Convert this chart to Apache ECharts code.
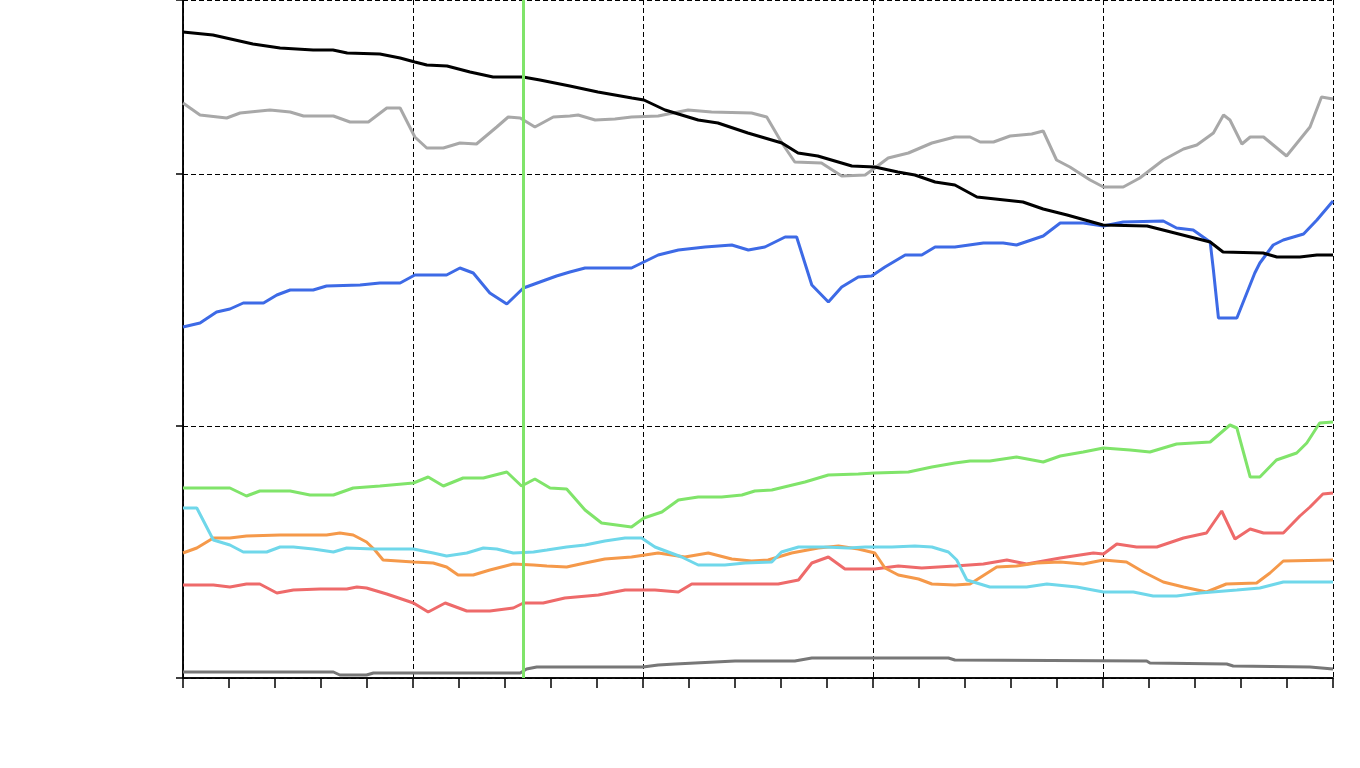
<!DOCTYPE html>
<html>
<head>
<meta charset="utf-8">
<script src="https://cdn.jsdelivr.net/npm/echarts@6/dist/echarts.min.js"></script>
<style>
html,body{margin:0;padding:0;background:#fff;}
#chart{width:1360px;height:768px;}
</style>
</head>
<body>
<div id="chart"></div>
<script>
// x: position along the time axis (0..25), y: value (axis 0..678)
const blackSeries = [[0,646],[0.65,643],[1.52,634],[2.11,630],[2.83,628],[3.26,628],[3.57,625],[4.28,624],[4.72,620],[5.04,616],[5.30,613],[5.74,612],[6.24,606],[6.74,601],[7.39,601],[7.76,598],[8.41,592],[9.02,586],[9.76,580],[10.02,578],[10.48,568],[11.20,558],[11.63,555],[12.28,545],[13.02,535],[13.37,525],[13.80,522],[14.54,512],[15.04,511],[15.54,506],[15.91,503],[16.35,496],[16.78,493],[17.26,481],[18.26,476],[18.70,469],[19.22,463],[20.00,453],[20.96,452],[21.39,447],[22.33,436],[22.61,426],[23.48,425],[23.78,421],[24.28,421],[24.65,423],[25,423]];

const lightGraySeries = [[0,575],[0.37,563],[0.95,560],[1.24,565],[1.89,568],[2.33,566],[2.62,562],[3.27,562],[3.63,556],[4.03,556],[4.43,570],[4.72,570],[5.04,541],[5.30,530],[5.66,530],[6.02,535],[6.38,534],[6.82,551],[7.07,561],[7.33,560],[7.65,551],[8.05,561],[8.41,562],[8.59,563],[8.96,558],[9.39,559],[9.75,561],[10.33,562],[10.98,568],[11.49,566],[12.36,565],[12.69,561],[13.02,535],[13.30,516],[13.88,515],[14.32,502],[14.83,503],[15.04,510],[15.33,520],[15.77,525],[16.28,535],[16.78,541],[17.11,541],[17.33,536],[17.62,536],[17.98,542],[18.45,544],[18.70,547],[18.99,518],[19.28,511],[19.72,498],[20.01,491],[20.44,491],[20.80,500],[21.31,518],[21.75,529],[22.04,533],[22.40,545],[22.62,563],[22.76,558],[23.02,534],[23.20,541],[23.49,541],[23.99,522],[24.50,551],[24.75,581],[25,579]];

const blueSeries = [[0,351],[0.37,355],[0.73,366],[1.02,369],[1.31,375],[1.75,375],[2.04,383],[2.33,388],[2.83,388],[3.12,392],[3.85,393],[4.28,395],[4.72,395],[5.04,403],[5.73,403],[6.02,410],[6.31,405],[6.67,385],[7.04,374],[7.40,390],[7.76,396],[8.12,402],[8.41,406],[8.74,410],[9.75,410],[10.33,423],[10.77,428],[11.35,431],[11.93,433],[12.29,428],[12.65,431],[13.09,441],[13.34,441],[13.67,393],[14.03,376],[14.32,391],[14.68,401],[14.97,402],[15.26,411],[15.70,423],[16.06,423],[16.35,431],[16.78,431],[17.40,435],[17.83,435],[18.12,433],[18.70,442],[19.07,455],[19.57,455],[20.01,452],[20.44,456],[21.31,457],[21.60,450],[21.96,448],[22.33,436],[22.40,408],[22.51,360],[22.91,360],[23.30,405],[23.41,415],[23.70,433],[23.92,438],[24.36,444],[24.65,458],[25,477]];

const greenSeries = [[0,190],[1.02,190],[1.38,182],[1.67,187],[2.33,187],[2.76,183],[3.27,183],[3.70,190],[4.28,192],[5.01,195],[5.33,201],[5.66,192],[6.09,200],[6.53,200],[7.04,206],[7.36,192],[7.65,199],[7.98,190],[8.34,189],[8.74,168],[9.10,155],[9.75,151],[10.02,160],[10.41,166],[10.77,178],[11.20,181],[11.71,181],[12.15,183],[12.43,187],[12.80,188],[13.52,196],[14.03,203],[14.68,204],[15.04,205],[15.77,206],[16.28,211],[16.78,215],[17.11,217],[17.54,217],[18.12,221],[18.70,216],[19.07,222],[19.57,226],[20.01,230],[20.59,228],[21.02,226],[21.60,234],[22.33,236],[22.76,253],[22.91,250],[23.20,201],[23.41,201],[23.77,218],[24.21,225],[24.43,235],[24.71,255],[25,256]];

const cyanSeries = [[0,170],[0.30,170],[0.66,138],[1.02,133],[1.31,126],[1.82,126],[2.11,131],[2.40,131],[2.83,129],[3.27,126],[3.56,130],[4.14,129],[5.01,129],[5.44,125],[5.73,122],[6.17,125],[6.53,130],[6.82,129],[7.18,125],[7.62,126],[7.91,128],[8.34,131],[8.74,133],[9.17,137],[9.61,140],[9.97,140],[10.26,131],[10.55,126],[10.84,121],[11.20,113],[11.78,113],[12.22,115],[12.80,116],[13.01,126],[13.38,131],[13.96,131],[14.46,130],[14.83,131],[15.04,131],[15.41,131],[15.91,132],[16.28,131],[16.64,126],[16.82,118],[17.04,98],[17.54,91],[18.34,91],[18.78,94],[19.43,91],[20.01,86],[20.66,86],[21.09,82],[21.60,82],[22.11,85],[22.91,88],[23.41,90],[23.92,96],[25,96]];

const orangeSeries = [[0,125],[0.30,130],[0.66,140],[1.02,140],[1.38,142],[2.11,143],[3.12,143],[3.41,145],[3.70,143],[3.99,136],[4.17,128],[4.35,118],[5.01,116],[5.44,115],[5.73,111],[5.98,103],[6.31,103],[6.67,108],[7.18,114],[7.62,113],[7.91,112],[8.34,111],[8.74,115],[9.17,119],[9.75,121],[10.33,125],[10.91,121],[11.42,125],[11.93,119],[12.36,117],[12.72,118],[13.23,125],[13.81,130],[14.25,132],[14.68,129],[15.04,125],[15.26,110],[15.55,103],[15.99,99],[16.28,94],[16.78,93],[17.11,94],[17.69,111],[18.12,112],[18.56,115],[19.07,116],[19.57,114],[20.01,118],[20.51,116],[20.88,106],[21.31,96],[21.75,91],[22.25,86],[22.68,94],[23.34,95],[23.63,105],[23.92,117],[25,118]];

const redSeries = [[0,93],[0.66,93],[1.02,91],[1.38,94],[1.67,94],[2.04,85],[2.40,88],[2.98,89],[3.56,89],[3.78,91],[3.99,90],[4.43,84],[5.01,75],[5.33,66],[5.70,75],[6.17,67],[6.67,67],[7.18,70],[7.40,75],[7.83,75],[8.30,80],[9.03,83],[9.61,88],[10.26,88],[10.77,86],[11.06,94],[11.93,94],[12.94,94],[13.38,98],[13.67,115],[14.03,121],[14.39,109],[15.04,109],[15.55,112],[16.06,110],[16.78,112],[17.40,114],[17.91,118],[18.34,114],[19.07,120],[19.79,125],[20.01,124],[20.30,134],[20.73,131],[21.17,131],[21.75,140],[22.25,145],[22.58,167],[22.87,139],[23.20,149],[23.49,145],[23.92,145],[24.28,162],[24.50,171],[24.78,184],[25,185]];

const darkGraySeries = [[0,6],[3.27,6],[3.41,3],[3.99,3],[4.14,5],[7.33,5],[7.47,9],[7.69,11],[10.0,11],[10.33,13],[10.70,14],[12.00,17],[13.30,17],[13.67,20],[16.64,20],[16.78,18],[20.95,17],[21.02,15],[22.69,14],[22.83,12],[24.50,11],[25,9]];

const markerX = 7.39;

const lineDefs = [
  {name:'S8', data: darkGraySeries, color:'#777777'},
  {name:'S7', data: redSeries, color:'#ee6a6a'},
  {name:'S6', data: orangeSeries, color:'#f5994a'},
  {name:'S5', data: cyanSeries, color:'#6fd7ea'},
  {name:'S4', data: greenSeries, color:'#80e46a'},
  {name:'S3', data: blueSeries, color:'#3d6ae6'},
  {name:'S2', data: lightGraySeries, color:'#a8a8a8'},
  {name:'S1', data: blackSeries, color:'#000000'}
];

const series = lineDefs.map(d => ({
  type:'line', name:d.name, data:d.data, showSymbol:false, symbol:'none',
  lineStyle:{color:d.color, width:3}, itemStyle:{color:d.color},
  xAxisIndex:0, yAxisIndex:0
}));
series.push({
  type:'line', name:'marker', data:[], xAxisIndex:0, yAxisIndex:0,
  markLine:{silent:true, symbol:['none','none'], label:{show:false},
    lineStyle:{color:'#80e46a', width:3, type:'solid'},
    data:[{xAxis:markerX}]}
});

const chart = echarts.init(document.getElementById('chart'), null, {renderer:'canvas'});
chart.setOption({
  animation:false,
  backgroundColor:'#ffffff',
  grid:{left:183, right:27, top:0, bottom:90, containLabel:false},
  xAxis:[{
    type:'value', min:0, max:25, interval:5, position:'bottom',
    axisLine:{show:true, onZero:false, lineStyle:{color:'#000', width:1.5}},
    axisTick:{show:true, length:10, inside:false, lineStyle:{color:'#000', width:1.5}},
    minorTick:{show:true, splitNumber:5, length:10, lineStyle:{color:'#000', width:1.5}},
    axisLabel:{show:false},
    splitLine:{show:true, lineStyle:{color:'#000', width:1, type:[5,3]}}
  },{
    type:'value', min:0, max:25, position:'top',
    axisLine:{show:true, lineStyle:{color:'#000', width:1.5}},
    axisTick:{show:false}, axisLabel:{show:false}, splitLine:{show:false}
  }],
  yAxis:[{
    type:'value', min:0, max:678, interval:252, position:'left',
    axisLine:{show:true, onZero:false, lineStyle:{color:'#000', width:1.5}},
    axisTick:{show:true, length:7, inside:false, lineStyle:{color:'#000', width:1.5}},
    axisLabel:{show:false},
    splitLine:{show:true, lineStyle:{color:'#000', width:1, type:[5,3]}}
  },{
    type:'value', min:0, max:678, position:'right',
    axisLine:{show:true, lineStyle:{color:'#000', width:1.5}},
    axisTick:{show:false}, axisLabel:{show:false}, splitLine:{show:false}
  }],
  series: series
});
</script>
</body>
</html>
